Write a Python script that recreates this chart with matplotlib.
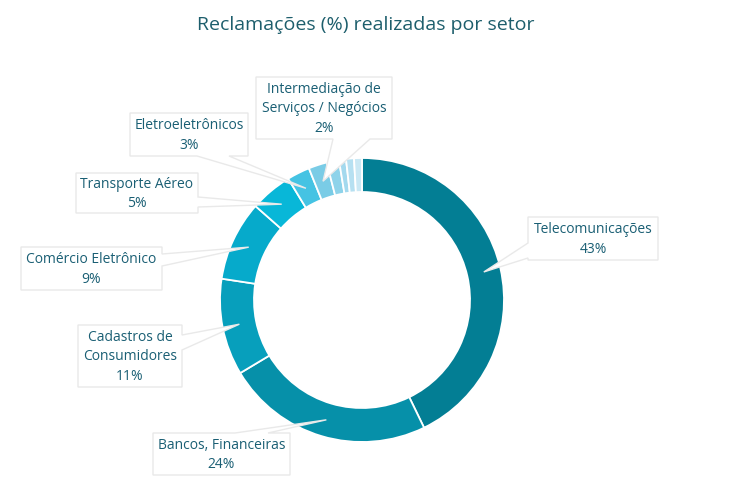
import numpy as np
import matplotlib
matplotlib.use("Agg")
import matplotlib.pyplot as plt
from matplotlib.patches import Polygon

# ---------------- data ----------------
categories = ["Telecomunicações", "Bancos, Financeiras", "Cadastros de\nConsumidores",
              "Comércio Eletrônico", "Transporte Aéreo", "Eletroeletrônicos",
              "Intermediação de\nServiços / Negócios"]
values = [42.8, 23.6, 11.0, 9.1, 4.8, 2.6, 2.1]
# small unlabeled sectors (labels hidden in the original)
small_values = [1.4, 0.8, 0.9, 0.9]

colors = ["#037e94", "#0690a9", "#079fbc", "#06aacb", "#08b7d8", "#45c3e3",
          "#7acce6", "#8ed3ea", "#a3d9ee", "#b6e0f1", "#cae8f4"]

title = "Reclamações (%) realizadas por setor"

# ---------------- layout (pixels, y from top) ----------------
W, H = 732, 492
CX, CY = 362, 300
R_OUT, RING_W = 142, 34

# label boxes: (x0, y0, x1, y1) and wedge base (two points on the box edge)
boxes = [
    ((528, 217, 658, 260), ((528, 243), (528, 258))),
    ((153, 433, 290, 475), ((268, 433), (235, 433))),
    ((78, 325, 182, 387), ((182, 350), (182, 335))),
    ((21, 247, 162, 290), ((162, 266), (162, 254))),
    ((76, 173, 198, 213), ((198, 207), (198, 197))),
    ((130, 113, 248, 156), ((229, 156), (197, 156))),
    ((256, 77, 392, 139), ((370, 139), (333, 139))),
]

TEXT_COLOR = "#1a5f74"
TITLE_COLOR = "#1d5e6c"

fig = plt.figure(figsize=(W / 100, H / 100), dpi=100)
ax = fig.add_axes([0, 0, 1, 1])

all_vals = values + small_values
ax.pie(all_vals, colors=colors, startangle=90, counterclock=False,
       center=(CX, H - CY), radius=R_OUT,
       wedgeprops=dict(width=RING_W, edgecolor="white", linewidth=1.3),
       normalize=True)

ax.set_xlim(0, W)
ax.set_ylim(0, H)
ax.set_aspect("equal")
ax.axis("off")

total = float(sum(all_vals))
cum = np.cumsum([0] + all_vals) / total * 360.0
r_mid = R_OUT - RING_W / 2.0


def box_path(box, base, tip):
    x0, y0, x1, y1 = box
    corners = [(x0, y0), (x1, y0), (x1, y1), (x0, y1)]
    (bx0, by0), (bx1, by1) = base
    if by0 == y0 and by1 == y0:
        edge = 0
    elif bx0 == x1 and bx1 == x1:
        edge = 1
    elif by0 == y1 and by1 == y1:
        edge = 2
    else:
        edge = 3
    dirs = {0: (1, 0), 1: (0, 1), 2: (-1, 0), 3: (0, -1)}
    dx, dy = dirs[edge]
    p = [base[0], base[1]]
    p.sort(key=lambda q: q[0] * dx + q[1] * dy)
    pts = []
    for i in range(4):
        pts.append(corners[i])
        if i == edge:
            pts.append(p[0])
            pts.append(tip)
            pts.append(p[1])
    return [(x, H - y) for x, y in pts]


for i, (label, val) in enumerate(zip(categories, values)):
    mid = (cum[i] + cum[i + 1]) / 2.0
    th = np.deg2rad(mid)
    tip = (CX + r_mid * np.sin(th), CY - r_mid * np.cos(th))
    box, base = boxes[i]
    poly = Polygon(box_path(box, base, tip), closed=True, facecolor="white",
                   edgecolor="#e9e9e9", linewidth=1.0, zorder=5)
    ax.add_patch(poly)
    x0, y0, x1, y1 = box
    txt = f"{label}\n{round(val):d}%"
    ax.text((x0 + x1) / 2.0, H - (y0 + y1) / 2.0 - 1, txt, ha="center", va="center",
            fontsize=10, family="Open Sans", color=TEXT_COLOR,
            linespacing=1.45, zorder=6)

fig.text(366 / W, 1 - 25 / H, title, ha="center", va="center",
         fontsize=14, family="Open Sans", color=TITLE_COLOR)

fig.savefig("out.png", dpi=100, facecolor="white")
